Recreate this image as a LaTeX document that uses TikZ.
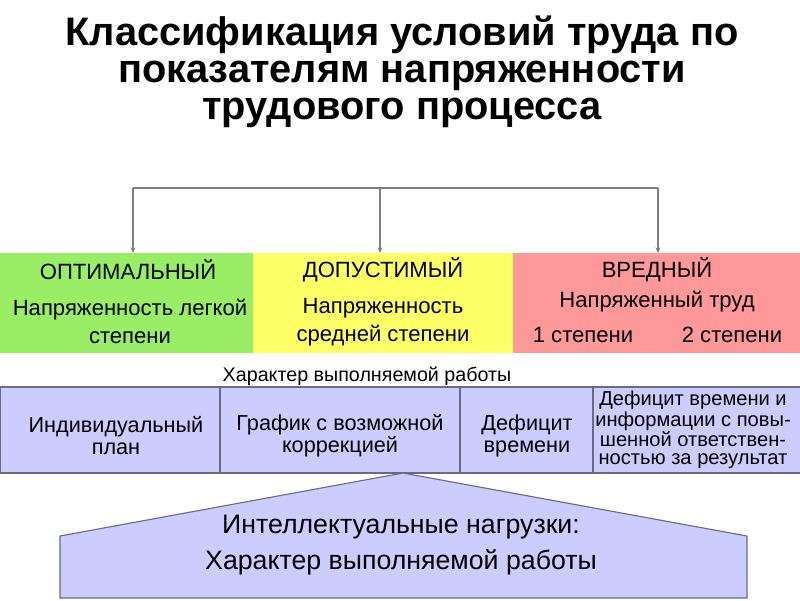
\documentclass[tikz,border=0pt]{standalone}
\usepackage{fontspec}
\setmainfont{Liberation Sans}
\usetikzlibrary{arrows.meta}
\definecolor{optgreen}{HTML}{99EE66}
\definecolor{dopyellow}{HTML}{FFFF66}
\definecolor{vredred}{HTML}{FF9999}
\definecolor{lav}{HTML}{CCCCFF}
\definecolor{lavline}{HTML}{6A6A80}
\definecolor{connline}{HTML}{7F7F7F}
\tikzset{
  band/.style={anchor=north west,inner sep=0pt,outer sep=0pt,minimum height=2.5cm},
  cell/.style={anchor=north west,inner sep=0pt,outer sep=0pt,draw=lavline,line width=.8pt,fill=lav,minimum height=2.15cm},
  conn/.style={connline,line width=1pt,-{Stealth[length=4pt,width=3.5pt]}},
  big/.style={font=\fontsize{15.7}{20}\selectfont,align=center},
  small/.style={font=\fontsize{15.4}{15.6}\selectfont,align=center}
}

\begin{document}
\begin{tikzpicture}[x=.025cm,y=-.025cm]
\useasboundingbox (0,0) rectangle (800,600);

\node[font=\bfseries\fontsize{28.3}{26.3}\selectfont,align=center] (title) at (402,72)
  {Классификация условий труда по\\показателям напряженности\\трудового процесса};

%classes
\node[band,fill=optgreen,minimum width=6.325cm] (opt) at (0,253) {};
\node[band,fill=dopyellow,minimum width=6.5cm] (dop) at (253,253) {};
\node[band,fill=vredred,minimum width=7.175cm] (vred) at (513,253) {};

\coordinate (split) at (380,188);
\draw[connline,line width=1pt] (133,188) -- (658,188);
\draw[conn] (split) -- (split|-opt.north);
\draw[conn] (133,188) -- (133,253);
\draw[conn] (658,188) -- (658,253);

\draw(128,270) node[big] (optname) {ОПТИМАЛЬНЫЙ};
\draw(130,321) node[big] (opttext) {Напряженность легкой\\степени};
\draw(383,270) node[big] (dopname) {ДОПУСТИМЫЙ};
\draw(383,322) node[big] (doptext) {Напряженность\\средней степени};
\draw(657,270) node[big] (vredname) {ВРЕДНЫЙ};
\draw(657,302) node[big] (vredtext) {Напряженный труд};
\draw(583,335) node[big] (vred1) {1 степени};
\draw(732,335) node[big] (vred2) {2 степени};

%work
\draw(367,376) node[font=\fontsize{14}{16}\selectfont] (worklabel) {Характер выполняемой работы};
\node[cell,minimum width=5.5cm] (c1) at (0,387) {};
\node[cell,minimum width=6cm] (c2) at (220,387) {};
\node[cell,minimum width=3.325cm] (c3) at (460,387) {};
\node[cell,minimum width=5.175cm] (c4) at (593,387) {};
\draw(116,436) node[small] (t1) {Индивидуальный\\план};
\draw(340,436) node[small] (t2) {График с возможной\\коррекцией};
\draw(527,436) node[small] (t3) {Дефицит\\времени};
\draw(693,430) node[font=\fontsize{14.3}{12.8}\selectfont,align=center] (t4)
  {Дефицит времени и\\информации с повы-\\шенной ответствен-\\ностью за результат};

%load
\coordinate (apex) at (403,473);
\draw[lavline,line width=.8pt,fill=lav] (60,598) -- (60,536) -- (apex) -- (747,536) -- (747,598) -- cycle;
\draw(401,545) node[font=\fontsize{19}{25.6}\selectfont,align=center] (load)
  {Интеллектуальные нагрузки:\\Характер выполняемой работы};

\end{tikzpicture}
\end{document}
